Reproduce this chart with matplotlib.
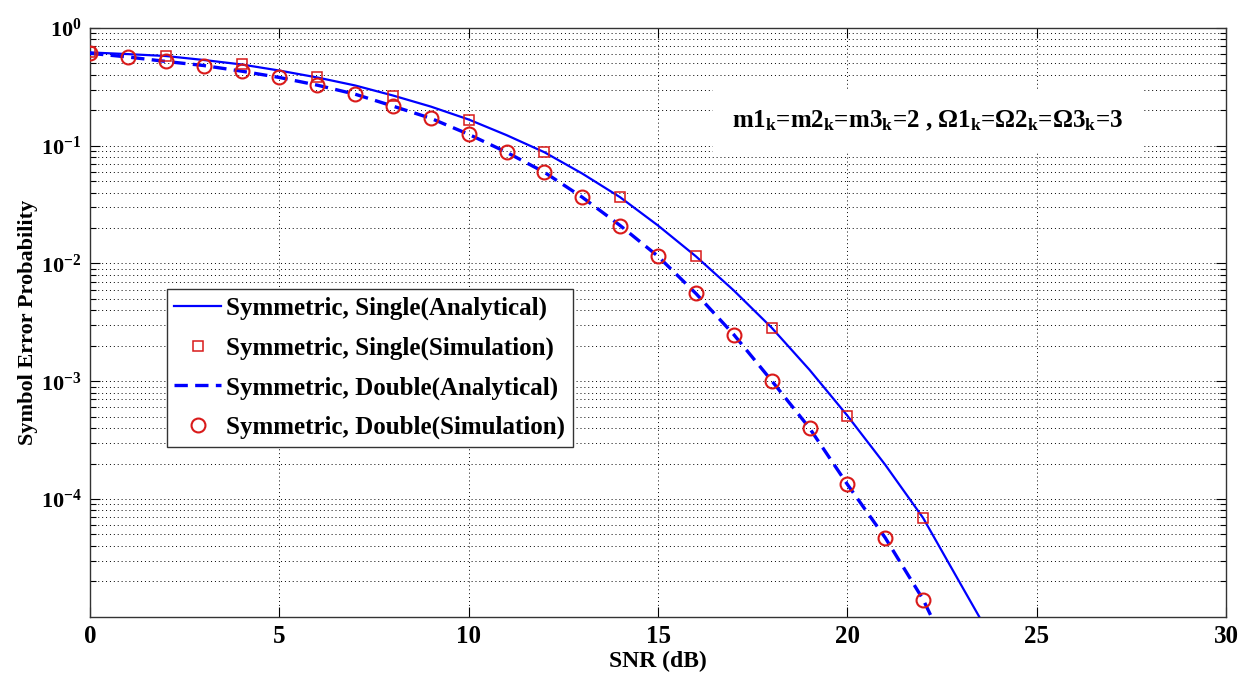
import numpy as np
import matplotlib
matplotlib.use("Agg")
import matplotlib.pyplot as plt
from matplotlib.ticker import LogLocator, NullFormatter, FixedLocator, FixedFormatter

plt.rcParams["font.family"] = ["Liberation Serif", "DejaVu Serif"]
plt.rcParams["mathtext.fontset"] = "custom"
plt.rcParams["mathtext.rm"] = "Liberation Serif"
plt.rcParams["mathtext.bf"] = "Liberation Serif:bold"
plt.rcParams["mathtext.it"] = "Liberation Serif:italic"

# analytical curves
snr_single = [0, 1, 2, 3, 4, 5, 6, 7, 8, 9, 10, 11, 12, 13, 14, 15, 16, 17, 18, 19, 20, 21, 22, 23, 24]
ser_single = [0.62, 0.60, 0.578, 0.535, 0.49, 0.435, 0.38, 0.325, 0.267, 0.215, 0.167, 0.123, 0.088,
              0.058, 0.0365, 0.021, 0.0115, 0.0059, 0.00285, 0.00125, 5.1e-4, 1.95e-4, 6.9e-5,
              1.87e-5, 5.1e-6]

snr_double = [0, 1, 2, 3, 4, 5, 6, 7, 8, 9, 10, 11, 12, 13, 14, 15, 16, 17, 18, 19, 20, 21, 22, 23]
ser_double = [0.61, 0.567, 0.52, 0.48, 0.43, 0.38, 0.327, 0.274, 0.217, 0.171, 0.125, 0.088, 0.0595,
              0.0365, 0.021, 0.0115, 0.00556, 0.00249, 0.00101, 4.0e-4, 1.33e-4, 4.68e-5, 1.4e-5, 3.0e-6]

# simulation points
snr_sim_single = [0, 2, 4, 6, 8, 10, 12, 14, 16, 18, 20, 22]
ser_sim_single = [0.62, 0.578, 0.49, 0.38, 0.267, 0.167, 0.088, 0.0365, 0.0115, 0.00285, 5.08e-4, 6.9e-5]

snr_sim_double = list(range(0, 23))
ser_sim_double = [0.61, 0.567, 0.52, 0.48, 0.43, 0.38, 0.327, 0.274, 0.217, 0.171, 0.125, 0.088, 0.0595,
                  0.0365, 0.021, 0.0115, 0.00556, 0.00249, 0.00101, 4.0e-4, 1.33e-4, 4.68e-5, 1.4e-5]

yticks = [1e0, 1e-1, 1e-2, 1e-3, 1e-4]
ytick_labels = [r"$\mathbf{10^{0}}$", r"$\mathbf{10^{-1}}$", r"$\mathbf{10^{-2}}$",
                r"$\mathbf{10^{-3}}$", r"$\mathbf{10^{-4}}$"]
xticks = [0, 5, 10, 15, 20, 25, 30]

fig = plt.figure(figsize=(12.47, 6.76), dpi=100)
ax = fig.add_axes([0.0722, 0.0877, 0.9110, 0.8709])

blue = (0, 0, 1)
red = (0.85, 0.1, 0.1)

ax.semilogy(snr_single, ser_single, "-", color=blue, lw=1.6, label="Symmetric, Single(Analytical)", zorder=3)
ax.semilogy(snr_sim_single, ser_sim_single, "s", color=red, mfc="none", ms=7, mew=1.1,
            label="Symmetric, Single(Simulation)", zorder=4)
ax.semilogy(snr_double, ser_double, "--", color=blue, lw=2.4, dashes=(4, 2.2),
            label="Symmetric, Double(Analytical)", zorder=3)
ax.semilogy(snr_sim_double, ser_sim_double, "o", color=red, mfc="none", ms=10, mew=1.5,
            label="Symmetric, Double(Simulation)", zorder=4)

ax.set_xlim(0, 30)
ax.set_ylim(1e-5, 1)
ax.xaxis.set_major_locator(FixedLocator(xticks))
ax.set_xticklabels([str(v) for v in xticks], fontsize=18, fontweight="bold")
ax.yaxis.set_major_locator(FixedLocator(yticks))
ax.yaxis.set_major_formatter(FixedFormatter(ytick_labels))
ax.yaxis.set_minor_locator(LogLocator(base=10, subs=np.arange(2, 10), numticks=20))
ax.yaxis.set_minor_formatter(NullFormatter())
for lab in ax.get_yticklabels():
    lab.set_fontsize(16)

ax.tick_params(which="both", direction="in", top=True, right=True, width=0.8, pad=6)
ax.tick_params(which="major", length=7)
ax.tick_params(which="minor", length=4)

ax.grid(True, which="major", axis="both", ls=(0, (1, 3)), color="k", lw=0.7)
ax.grid(True, which="minor", axis="y", ls=(0, (1, 3)), color="k", lw=0.7)
for sp in ax.spines.values():
    sp.set_linewidth(1.0)
    sp.set_color("#333333")

ax.set_xlabel("SNR (dB)", fontsize=17, fontweight="bold", labelpad=2)
ax.set_ylabel("Symbol Error Probability", fontsize=16, fontweight="bold")
ax.yaxis.set_label_coords(-0.0455, 0.5)

ax.text(0.7377, 0.842,
        r"m1$_\mathbf{k}$=m2$_\mathbf{k}$=m3$_\mathbf{k}$=2 , Ω1$_\mathbf{k}$=Ω2$_\mathbf{k}$=Ω3$_\mathbf{k}$=3",
        transform=ax.transAxes, ha="center", va="center", fontsize=18, fontweight="bold",
        bbox=dict(facecolor="white", edgecolor="none", pad=14), zorder=5)

leg = ax.legend(loc="lower left", bbox_to_anchor=(0.0675, 0.2888), borderaxespad=0,
                prop={"family": "Liberation Serif", "weight": "bold", "size": 18},
                handlelength=1.88, handletextpad=0.2, labelspacing=0.65, borderpad=0.3,
                fancybox=False, framealpha=1, edgecolor="#333333")
leg.get_frame().set_linewidth(1.0)
leg.set_zorder(6)

fig.savefig("out.png", dpi=100)
